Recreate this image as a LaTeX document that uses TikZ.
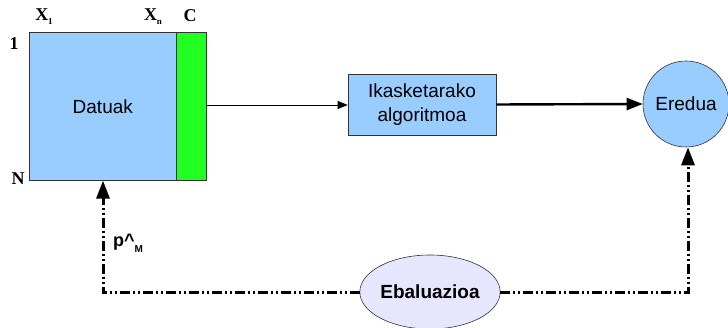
\documentclass[tikz,border=0pt]{standalone}
\usepackage{fontspec}
\setmainfont{Liberation Sans}
\newfontfamily\serifbold{Liberation Serif}
\usetikzlibrary{arrows.meta,shapes.geometric}
\definecolor{skyfill}{RGB}{153,204,255}
\definecolor{greenfill}{RGB}{34,255,34}
\definecolor{lavender}{RGB}{230,230,255}
\tikzset{
  px/.style={x=1pt,y=-1pt},
  axislabel/.style={font=\serifbold\bfseries\fontsize{18}{18}\selectfont, inner sep=0pt},
  procbox/.style={draw=black!80, fill=skyfill, line width=0.6pt, minimum width=148pt, minimum height=61pt, align=center, font=\fontsize{19}{24}\selectfont},
  modelcircle/.style={circle, draw=black!80, fill=skyfill, line width=0.6pt, minimum size=86pt, inner sep=0pt, font=\fontsize{19}{19}\selectfont},
  evalellipse/.style={ellipse, draw=black!80, fill=lavender, line width=0.6pt, minimum width=134pt, minimum height=74pt, inner sep=0pt, font=\bfseries\fontsize{19}{19}\selectfont},
  feedback/.style={line width=3pt, dash pattern=on 10pt off 3pt on 2pt off 3pt on 2pt off 3pt},
}
\begin{document}
\begin{tikzpicture}[px]
\useasboundingbox (0,0) rectangle (728,328);
% data matrix: attribute block and class column
\node[draw=black!80, fill=skyfill, line width=0.6pt, minimum width=147pt, minimum height=148pt, inner sep=0pt, anchor=north west, font=\fontsize{19}{19}\selectfont] (data) at (29,32) {Datuak};
\node[draw=black!80, fill=greenfill, line width=0.6pt, minimum width=30pt, minimum height=148pt, inner sep=0pt, anchor=north west] (class) at (176,32) {};
% row and column labels
\node[axislabel] (row1) at (14,44) {1};
\node[axislabel] (rowN) at (18,179) {N};
\node[axislabel] (col1) at (44,17) {X\raisebox{-0.5ex}{\fontsize{9}{9}\selectfont 1}};
\node[axislabel] (coln) at (153,17) {X\raisebox{-0.5ex}{\fontsize{9}{9}\selectfont n}};
\node[axislabel] (colC) at (190,16) {C};
% processing chain
\node[procbox] (algo) at (422,104.5) {Ikasketarako\\algoritmoa};
\node[modelcircle] (model) at (686,104) {Eredua};
\node[evalellipse] (eval) at (430,292) {Ebaluazioa};
\coordinate (dataout) at (class.east |- 0,105);
\draw[line width=0.6pt, -{Triangle[length=10pt,width=8pt]}] (dataout) -- (algo.west |- dataout);
\draw[line width=2.4pt, -{Triangle[length=16pt,width=12pt]}] (algo.east) -- (model.west);
% evaluation feedback
\coordinate (cornerL) at (103,293);
\coordinate (cornerR) at (688,293);
\draw[feedback, -{Triangle[length=18pt,width=13pt]}] (eval.west |- cornerL) -- (cornerL) -- (cornerL |- data.south);
\draw[feedback, -{Triangle[length=18pt,width=13pt]}] (eval.east |- cornerR) -- (cornerR) -- (cornerR |- model.south);
\node[font=\bfseries\fontsize{18}{18}\selectfont, inner sep=0pt] (perf) at (128,243) {p\^{}\raisebox{-0.6ex}{\fontsize{10}{10}\selectfont M}};
\end{tikzpicture}
\end{document}
